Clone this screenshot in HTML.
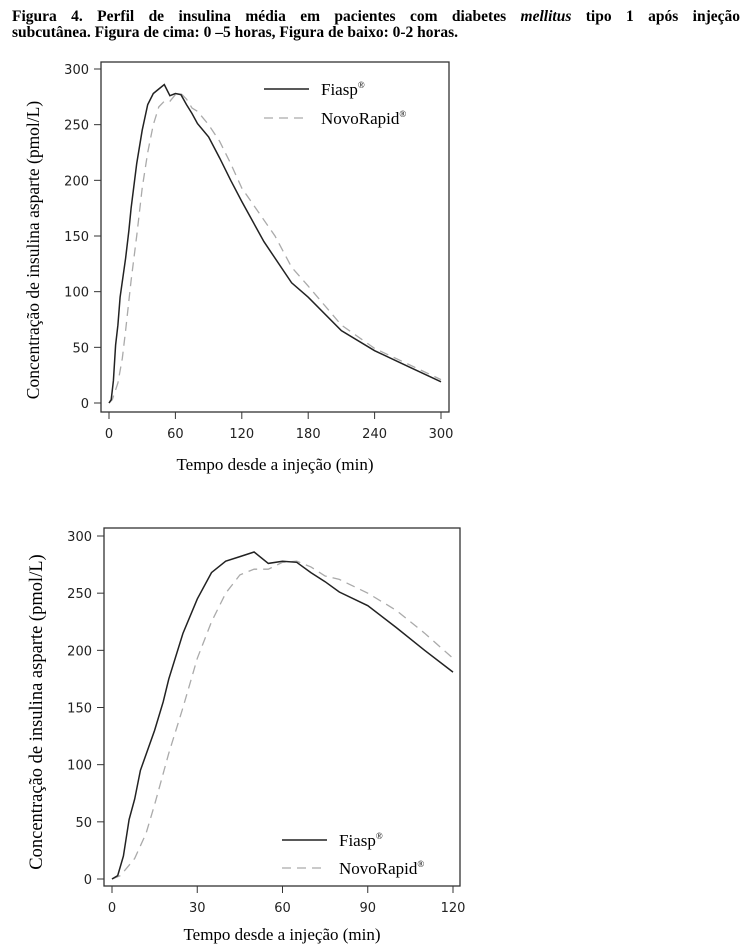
<!DOCTYPE html>
<html><head><meta charset="utf-8"><style>
body{margin:0;background:#fff;width:750px;height:944px;overflow:hidden;position:relative;font-family:"Liberation Serif",serif}
.t{position:absolute;left:12px;width:728px;font-weight:bold;font-size:15.5px;line-height:16px;text-align:justify;text-align-last:left}
svg{position:absolute;left:0;top:0}
</style></head><body>
<div class="t" style="top:9px;text-align-last:justify">Figura 4. Perfil de insulina média em pacientes com diabetes <i>mellitus</i> tipo 1 após injeção</div>
<div class="t" style="top:25px">subcutânea. Figura de cima: 0 –5 horas, Figura de baixo: 0-2 horas.</div>
<svg id="s" width="750" height="944"></svg>
<script>
var F=[[0,0],[2,3],[4,20],[6,52],[8,70],[10,95],[15,130],[18,155],[20,175],[25,215],[30,245],[35,268],[40,278],[45,282],[50,286],[55,276],[60,278],[65,277],[70,268],[75,260],[80,251],[90,239],[100,220],[110,200],[120,181],[140,145],[165,108],[180,95],[210,65],[240,47],[270,33],[300,19]];
var N=[[0,0],[3,3],[8,18],[12,40],[15,65],[20,110],[25,150],[30,193],[35,225],[40,250],[45,266],[50,271],[55,271],[60,277],[65,278],[70,273],[75,265],[80,262],[90,250],[100,235],[110,215],[120,193],[150,150],[165,122],[180,105],[210,70],[240,49],[270,35],[300,21]];
var h='';
function chart(c){
 var X=function(v){return c.x0+(c.x1-c.x0)*v/c.xm},Y=function(v){return c.y0+(c.y1-c.y0)*v/300};
 h+='<rect x="'+c.bl+'" y="'+c.bt+'" width="'+(c.br-c.bl)+'" height="'+(c.bb-c.bt)+'" fill="none" stroke="#333" stroke-width="1.3"/>';
 for(var v=0;v<=300;v+=50){var y=Y(v);h+='<line x1="'+(c.bl-7)+'" x2="'+c.bl+'" y1="'+y+'" y2="'+y+'" stroke="#333"/><text x="'+(c.bl-12)+'" y="'+(y+5)+'" text-anchor="end" font-family="DejaVu Sans" font-size="13" fill="#222">'+v+'</text>';}
 for(var v=0;v<=c.xm;v+=c.xs){var x=X(v);h+='<line x1="'+x+'" x2="'+x+'" y1="'+c.bb+'" y2="'+(c.bb+7)+'" stroke="#333"/><text x="'+x+'" y="'+(c.bb+26)+'" text-anchor="middle" font-family="DejaVu Sans" font-size="13" fill="#222">'+v+'</text>';}
 function pl(d,st){var p=d.filter(function(a){return a[0]<=c.xm}).map(function(a){return X(a[0]).toFixed(1)+','+Y(a[1]).toFixed(1)}).join(' ');h+='<polyline points="'+p+'" fill="none" '+st+'/>';}
 pl(N,'stroke="#aaa" stroke-width="1.3" stroke-dasharray="9,6"');
 pl(F,'stroke="#222" stroke-width="1.5"');
 h+='<line x1="'+c.lx+'" x2="'+(c.lx+45)+'" y1="'+c.ly+'" y2="'+c.ly+'" stroke="#222" stroke-width="1.5"/><text x="'+(c.lx+57)+'" y="'+(c.ly+6)+'" font-size="17" font-family="Liberation Serif">Fiasp<tspan font-size="9" dy="-7">®</tspan></text>';
 h+='<line x1="'+c.lx+'" x2="'+(c.lx+45)+'" y1="'+(c.ly+c.lg)+'" y2="'+(c.ly+c.lg)+'" stroke="#aaa" stroke-width="1.3" stroke-dasharray="9,6"/><text x="'+(c.lx+57)+'" y="'+(c.ly+c.lg+6)+'" font-size="17" font-family="Liberation Serif">NovoRapid<tspan font-size="9" dy="-7">®</tspan></text>';
 h+='<text transform="translate('+c.yl+','+c.yc+') rotate(-90)" text-anchor="middle" font-size="'+c.yf+'" font-family="Liberation Serif">Concentração de insulina asparte (pmol/L)</text>';
 h+='<text x="'+((c.bl+c.br)/2)+'" y="'+c.xl+'" text-anchor="middle" font-size="17" font-family="Liberation Serif">Tempo desde a injeção (min)</text>';
}
chart({bl:101,bt:62,br:449,bb:412,x0:109,x1:441,xm:300,xs:60,y0:403,y1:69,lx:264,ly:89,lg:29,yl:39,yc:250,yf:17.5,xl:470});
chart({bl:104,bt:528,br:460,bb:886,x0:112,x1:453,xm:120,xs:30,y0:879,y1:536,lx:282,ly:840,lg:28,yl:42,yc:712,yf:18.5,xl:940});
document.getElementById('s').innerHTML=h;
</script>
</body></html>
